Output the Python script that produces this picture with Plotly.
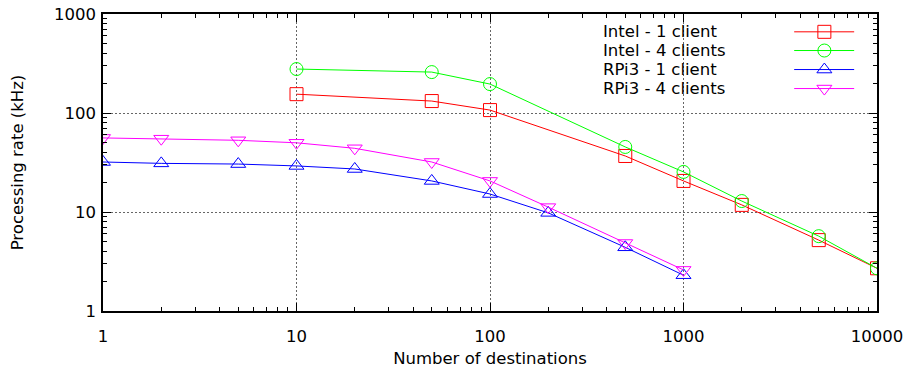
import plotly.graph_objects as go

# Data
intel1_x = [10, 50, 100, 500, 1000, 2000, 5000, 10000]
intel1_y = [155, 132, 107, 36.8, 20.6, 11.8, 5.2, 2.7]
intel4_x = [10, 50, 100, 500, 1000, 2000, 5000, 10000]
intel4_y = [278, 259, 196, 45.4, 25.4, 12.9, 5.7, 2.7]
rpi1_x = [1, 2, 5, 10, 20, 50, 100, 200, 500, 1000]
rpi1_y = [32, 31, 30.5, 29.2, 27.2, 20.6, 15.2, 9.8, 4.4, 2.3]
rpi4_x = [1, 2, 5, 10, 20, 50, 100, 200, 500, 1000]
rpi4_y = [56, 55, 53, 50, 44, 32, 20.6, 11.2, 4.86, 2.6]

series_names = ["Intel - 1 client", "Intel - 4 clients", "RPi3 - 1 client", "RPi3 - 4 clients"]
series_colors = ["#ff0000", "#00ff00", "#0000ff", "#ff00ff"]
series_symbols = ["square-open", "circle-open", "triangle-up-open", "triangle-down-open"]
series_x = [intel1_x, intel4_x, rpi1_x, rpi4_x]
series_y = [intel1_y, intel4_y, rpi1_y, rpi4_y]

FONT = "DejaVu Sans"
FS = 16.5

fig = go.Figure()
for name, color, sym, xs, ys in zip(series_names, series_colors, series_symbols, series_x, series_y):
    fig.add_trace(go.Scatter(
        x=xs, y=ys, name=name, mode="lines+markers",
        line=dict(color=color, width=1),
        marker=dict(symbol=sym, size=13, color=color, line=dict(width=1, color=color)),
        showlegend=False,
    ))

# Gnuplot-style legend: text on the left, sample on the right
leg_rows = [0.94, 0.877, 0.813, 0.749]
for name, color, sym, ly in zip(series_names, series_colors, series_symbols, leg_rows):
    fig.add_trace(go.Scatter(
        x=[0.893, 0.9705], y=[ly, ly], xaxis="x2", yaxis="y2",
        mode="lines", line=dict(color=color, width=1), showlegend=False, hoverinfo="skip",
    ))
    fig.add_trace(go.Scatter(
        x=[0.932], y=[ly], xaxis="x2", yaxis="y2", mode="markers",
        marker=dict(symbol=sym, size=13, color=color, line=dict(width=1, color=color)),
        showlegend=False, hoverinfo="skip",
    ))
    fig.add_annotation(x=0.644, y=ly, xref="x2", yref="y2", text=name, showarrow=False,
                       xanchor="left", yanchor="middle", font=dict(family=FONT, size=FS, color="black"))

axis_common = dict(
    type="log", showline=True, linecolor="black", linewidth=1.5, mirror="allticks",
    ticks="inside", ticklen=8, tickwidth=1, tickcolor="black",
    showgrid=True, gridcolor="#666666", gridwidth=1, griddash="2px,2px",
    zeroline=False, dtick=1, automargin=False,
    minor=dict(ticks="inside", ticklen=4, tickwidth=1, tickcolor="black", dtick="D1", showgrid=False),
    tickfont=dict(family=FONT, size=FS, color="black"),
)

fig.update_layout(
    width=907, height=369,
    margin=dict(l=103, r=30, t=14, b=58),
    paper_bgcolor="white", plot_bgcolor="white",
    font=dict(family=FONT, size=FS, color="black"),
    xaxis=dict(axis_common, range=[0, 4], tickvals=[1, 10, 100, 1000, 10000],
               ticktext=["1", "10", "100", "1000", "10000"], ticklabelstandoff=9,
               title=dict(text="Number of destinations", font=dict(family=FONT, size=FS), standoff=8)),
    yaxis=dict(axis_common, range=[0, 3], tickvals=[1, 10, 100, 1000],
               ticktext=["1", "10", "100", "1000"], ticklabelstandoff=2,
               title=dict(text="Processing rate (kHz)", font=dict(family=FONT, size=FS), standoff=26)),
    xaxis2=dict(overlaying="x", range=[0, 1], visible=False, showgrid=False),
    yaxis2=dict(overlaying="y", range=[0, 1], visible=False, showgrid=False),
)

fig.write_html("out.html")
